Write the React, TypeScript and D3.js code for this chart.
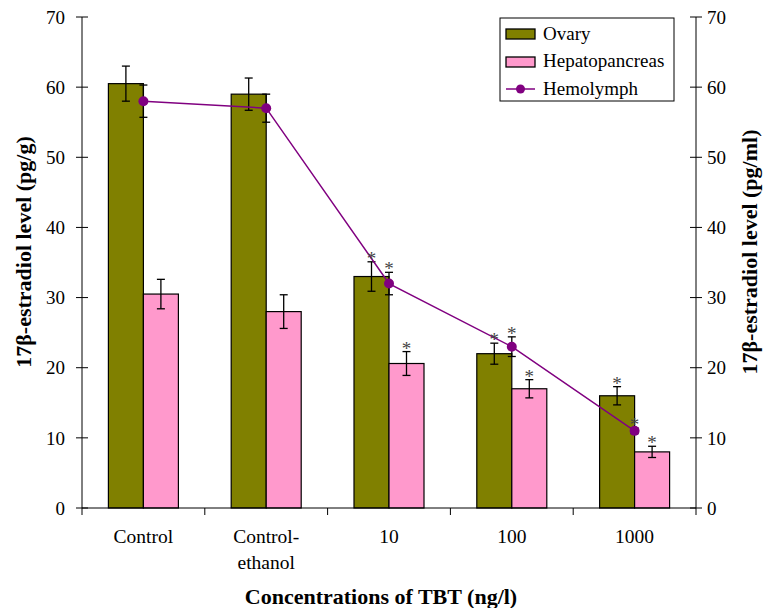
import * as d3 from 'd3';

const categories = ['Control', 'Control-ethanol', '10', '100', '1000'];
const categoryLines = [['Control'], ['Control-', 'ethanol'], ['10'], ['100'], ['1000']];
const ovary = [60.5, 59.0, 33.0, 22.0, 16.0];
const ovaryErr = [2.5, 2.3, 2.1, 1.5, 1.3];
const hepato = [30.5, 28.0, 20.6, 17.0, 8.0];
const hepatoErr = [2.1, 2.4, 1.7, 1.3, 0.8];
const hemolymph = [58.0, 57.0, 32.0, 23.0, 11.0];
const hemolymphErr = [2.3, 2.0, 1.6, 1.4, 0.4];
const significant = [false, false, true, true, true];
const yTicks = [0, 10, 20, 30, 40, 50, 60, 70];

const MARGIN = { top: 17, right: 70, bottom: 100, left: 82 };
const WIDTH = 766;
const HEIGHT = 608;
const BAR_W = 35;
const TXT = { fontFamily: '"Liberation Serif", serif' };

const OLIVE = '#808000';
const PINK = '#FF99CC';
const PURPLE = '#800080';

const App = () => {
  const x0 = MARGIN.left;
  const x1 = WIDTH - MARGIN.right;
  const yBottom = HEIGHT - MARGIN.bottom;

  const xScale = d3.scaleBand().domain(categories).range([x0, x1]);
  const yScale = d3.scaleLinear().domain([0, 70]).range([yBottom, MARGIN.top]);
  const center = (c: string) => (xScale(c) ?? 0) + xScale.bandwidth() / 2;

  const line = d3
    .line<number>()
    .x((_, i) => center(categories[i]))
    .y(d => yScale(d));

  const errBar = (cx: number, v: number, e: number, key: string) => (
    <g key={key} stroke="black" strokeWidth={1.3}>
      <line x1={cx} x2={cx} y1={yScale(v + e)} y2={yScale(v - e)} />
      <line x1={cx - 4} x2={cx + 4} y1={yScale(v + e)} y2={yScale(v + e)} />
      <line x1={cx - 4} x2={cx + 4} y1={yScale(v - e)} y2={yScale(v - e)} />
    </g>
  );

  const star = (cx: number, top: number, key: string) => (
    <text key={key} x={cx} y={yScale(top) + 3} textAnchor="middle" fontSize={19} fill="#444" style={TXT}>
      *
    </text>
  );

  return (
    <svg width={WIDTH} height={HEIGHT} style={{ position: 'absolute', left: 0, top: 0 }}>
      <rect width={WIDTH} height={HEIGHT} fill="white" />

      {categories.map((c, i) => {
        const cx = center(c);
        return (
          <g key={c}>
            <rect
              x={cx - BAR_W}
              y={yScale(ovary[i])}
              width={BAR_W}
              height={yBottom - yScale(ovary[i])}
              fill={OLIVE}
              stroke="black"
              strokeWidth={1.2}
            />
            <rect
              x={cx}
              y={yScale(hepato[i])}
              width={BAR_W}
              height={yBottom - yScale(hepato[i])}
              fill={PINK}
              stroke="black"
              strokeWidth={1.2}
            />
            {errBar(cx - BAR_W / 2, ovary[i], ovaryErr[i], 'eo' + i)}
            {errBar(cx + BAR_W / 2, hepato[i], hepatoErr[i], 'eh' + i)}
            {errBar(cx, hemolymph[i], hemolymphErr[i], 'em' + i)}
          </g>
        );
      })}

      <path d={line(hemolymph) ?? ''} fill="none" stroke={PURPLE} strokeWidth={1.5} />
      {hemolymph.map((v, i) => (
        <circle key={'p' + i} cx={center(categories[i])} cy={yScale(v)} r={5} fill={PURPLE} />
      ))}

      {categories.map((c, i) =>
        significant[i] ? (
          <g key={'s' + c}>
            {star(center(c) - BAR_W / 2, ovary[i] + ovaryErr[i], 'so' + i)}
            {star(center(c) + BAR_W / 2, hepato[i] + hepatoErr[i], 'sh' + i)}
            {star(center(c), hemolymph[i] + hemolymphErr[i], 'sm' + i)}
          </g>
        ) : null
      )}

      {/* axes */}
      <g stroke="black" strokeWidth={1}>
        <line x1={x0} x2={x0} y1={MARGIN.top} y2={yBottom} />
        <line x1={x1} x2={x1} y1={MARGIN.top} y2={yBottom} />
        <line x1={x0} x2={x1} y1={yBottom} y2={yBottom} />
        {yTicks.map(t => (
          <g key={'t' + t}>
            <line x1={x0 - 6} x2={x0 + 6} y1={yScale(t)} y2={yScale(t)} />
            <line x1={x1 - 6} x2={x1 + 6} y1={yScale(t)} y2={yScale(t)} />
          </g>
        ))}
        {[...categories.map(c => xScale(c) ?? 0), x1].map((xv, i) => (
          <line key={'xt' + i} x1={xv} x2={xv} y1={yBottom} y2={yBottom + 7} />
        ))}
      </g>

      {yTicks.map(t => (
        <g key={'yl' + t}>
          <text x={x0 - 17} y={yScale(t)} dy="0.35em" textAnchor="end" fontSize={19} style={TXT}>
            {t}
          </text>
          <text x={x1 + 11} y={yScale(t)} dy="0.35em" textAnchor="start" fontSize={19} style={TXT}>
            {t}
          </text>
        </g>
      ))}

      {categories.map((c, i) => (
        <text key={'xl' + c} x={center(c)} y={543} textAnchor="middle" fontSize={19.5} style={TXT}>
          {categoryLines[i].map((l, j) => (
            <tspan key={l} x={center(c)} dy={j === 0 ? 0 : 26}>
              {l}
            </tspan>
          ))}
        </text>
      ))}

      <text x={381} y={604} textAnchor="middle" fontSize={22} fontWeight="bold" style={TXT}>
        Concentrations of TBT (ng/l)
      </text>
      <text
        transform="translate(31,252) rotate(-90)"
        textAnchor="middle"
        fontSize={22}
        fontWeight="bold"
        style={TXT}
      >
        17β-estradiol level (pg/g)
      </text>
      <text
        transform="translate(757,252) rotate(-90)"
        textAnchor="middle"
        fontSize={22}
        fontWeight="bold"
        style={TXT}
      >
        17β-estradiol level (pg/ml)
      </text>

      {/* legend */}
      <g>
        <rect x={500} y={18} width={174} height={83} fill="white" stroke="black" strokeWidth={1} />
        <rect x={506} y={29} width={29} height={10} fill={OLIVE} stroke="black" strokeWidth={1.3} />
        <text x={543} y={40} fontSize={19} style={TXT}>
          Ovary
        </text>
        <rect x={506} y={57} width={29} height={10} fill={PINK} stroke="black" strokeWidth={1.3} />
        <text x={543} y={67} fontSize={19} style={TXT}>
          Hepatopancreas
        </text>
        <line x1={506} x2={535} y1={89} y2={89} stroke={PURPLE} strokeWidth={1.5} />
        <circle cx={520.5} cy={89} r={4.5} fill={PURPLE} />
        <text x={543} y={95} fontSize={19} style={TXT}>
          Hemolymph
        </text>
      </g>
    </svg>
  );
};

export default App;
